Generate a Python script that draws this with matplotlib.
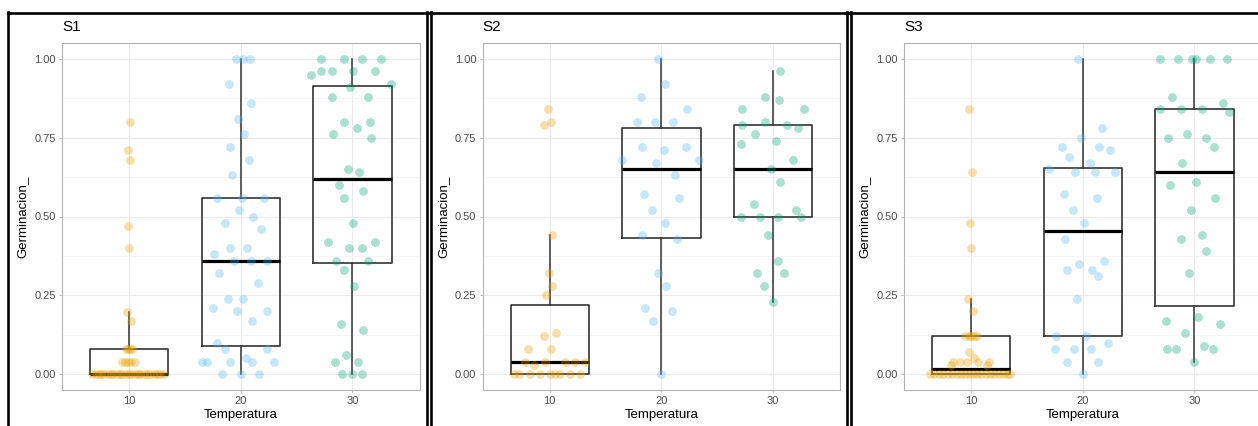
import numpy as np
import matplotlib.pyplot as plt
from matplotlib.lines import Line2D

plt.rcParams['font.family'] = ['Liberation Sans', 'DejaVu Sans']

W, H = 1258, 426

panels = ['S1', 'S2', 'S3']
temps = ['10', '20', '30']
colors = ['#E69F00', '#56B4E9', '#009E73']

# ---- S1 ----
s1_t10 = [0.80, 0.71, 0.68, 0.47, 0.40, 0.198, 0.17,
          0.08, 0.08, 0.08, 0.08,
          0.04, 0.04, 0.04, 0.04, 0.04] + [0.0] * 24
s1_t10_dx = [0.006, -0.012, 0.012, -0.006, 0.003, -0.015, 0.018,
             -0.03, -0.01, 0.01, 0.025,
             -0.065, -0.04, -0.01, 0.02, 0.05,
             -0.33, -0.30, -0.27, -0.25, -0.22, -0.19, -0.16, -0.14, -0.11, -0.08, -0.06, -0.03,
             0.0, 0.02, 0.05, 0.08, 0.10, 0.13, 0.16, 0.19, 0.22, 0.25, 0.28, 0.31]

s1_t20 = [1.0, 1.0, 1.0, 0.92, 0.86, 0.81, 0.76, 0.72, 0.68, 0.63,
          0.56, 0.56, 0.56, 0.52, 0.50, 0.48, 0.46, 0.40, 0.40, 0.38,
          0.36, 0.36, 0.36, 0.32, 0.29, 0.24, 0.24, 0.21, 0.20, 0.20,
          0.17, 0.10, 0.08, 0.08, 0.04, 0.04, 0.04, 0.04, 0.04, 0.05,
          0.0, 0.0, 0.0]
s1_t20_dx = [-0.045, 0.021, 0.083, -0.101, 0.089, -0.024, 0.033, -0.095, 0.074, -0.074,
             -0.217, 0.009, 0.208, -0.015, 0.110, -0.143, 0.179, -0.092, 0.054, -0.238,
             -0.057, 0.092, 0.238, -0.193, 0.152, -0.116, 0.018, -0.247, -0.033, 0.232,
             0.101, -0.214, -0.140, 0.235, -0.348, -0.298, -0.098, 0.101, 0.298, 0.051,
             -0.167, 0.0, 0.167]

s1_t30 = [1.0, 1.0, 1.0, 1.0, 0.95, 0.96, 0.96, 0.96, 0.96, 0.92,
          0.91, 0.88, 0.88, 0.80, 0.80, 0.78, 0.76, 0.75, 0.65, 0.64,
          0.60, 0.58, 0.56, 0.48, 0.42, 0.42, 0.40, 0.40, 0.36, 0.36,
          0.33, 0.28, 0.16, 0.14, 0.06, 0.04, 0.04, 0.0, 0.0, 0.0]
s1_t30_dx = [-0.280, -0.077, 0.089, 0.253, -0.375, -0.280, -0.182, 0.009, 0.199, 0.345,
             -0.024, -0.185, 0.137, -0.077, 0.161, 0.042, -0.176, 0.164, -0.036, 0.054,
             -0.122, 0.095, -0.077, 0.009, -0.220, 0.202, -0.033, 0.089, -0.146, 0.143,
             -0.080, 0.015, -0.107, 0.098, -0.054, -0.158, 0.051, -0.098, -0.003, 0.089]

# ---- S2 ----
s2_t10 = [0.84, 0.79, 0.80, 0.44, 0.32, 0.28, 0.25, 0.13, 0.12, 0.08, 0.08,
          0.04, 0.04, 0.04, 0.04, 0.04, 0.03] + [0.0] * 9
s2_t10_dx = [-0.015, -0.054, 0.015, 0.024, -0.009, 0.021, -0.036, 0.054, -0.048, -0.193, 0.012,
             -0.223, -0.045, 0.137, 0.226, 0.315, -0.140,
             -0.321, -0.271, -0.179, -0.089, 0.0, 0.045, 0.089, 0.185, 0.274]

s2_t20 = [1.0, 0.92, 0.88, 0.84, 0.80, 0.80, 0.80, 0.72, 0.72, 0.71,
          0.68, 0.68, 0.67, 0.63, 0.57, 0.56, 0.52, 0.48, 0.44, 0.43,
          0.32, 0.28, 0.21, 0.20, 0.17, 0.0]
s2_t20_dx = [-0.027, 0.033, -0.179, 0.226, -0.220, -0.060, 0.101, -0.170, 0.220, 0.027,
             -0.354, 0.336, -0.045, 0.119, -0.155, 0.158, -0.086, 0.030, -0.170, 0.143,
             -0.033, 0.045, -0.143, 0.095, -0.077, 0.0]

s2_t30 = [0.96, 0.88, 0.87, 0.84, 0.84, 0.79, 0.79, 0.80, 0.78, 0.76,
          0.73, 0.74, 0.68, 0.65, 0.61, 0.54, 0.52, 0.50, 0.50, 0.50,
          0.50, 0.44, 0.36, 0.32, 0.32, 0.28, 0.23]
s2_t30_dx = [0.057, -0.071, 0.051, -0.277, 0.280, -0.277, 0.125, -0.071, 0.223, -0.161,
             -0.286, 0.021, 0.179, -0.021, 0.060, -0.176, 0.202, -0.286, -0.122, 0.042,
             0.247, -0.048, 0.042, -0.143, 0.098, -0.086, 0.0]

# ---- S3 ----
s3_t10 = [0.84, 0.64, 0.48, 0.40, 0.24, 0.20,
          0.12, 0.12, 0.12, 0.12, 0.12, 0.07, 0.05,
          0.04, 0.04, 0.04, 0.04, 0.04, 0.03, 0.03] + [0.0] * 20
s3_t10_dx = [-0.018, 0.006, -0.012, -0.003, -0.027, 0.018,
             -0.05, -0.02, 0.0, 0.03, 0.05, -0.021, 0.030,
             -0.161, -0.095, -0.036, 0.060, 0.158, -0.176, 0.143,
             -0.37, -0.33, -0.29, -0.25, -0.21, -0.17, -0.13, -0.09, -0.05, -0.02,
             0.02, 0.05, 0.09, 0.13, 0.17, 0.21, 0.25, 0.29, 0.32, 0.35]

s3_t20 = [1.0, 0.78, 0.75, 0.72, 0.72, 0.71, 0.69, 0.67, 0.65, 0.64,
          0.64, 0.64, 0.57, 0.56, 0.52, 0.48, 0.43, 0.36, 0.35, 0.33,
          0.33, 0.31, 0.24, 0.12, 0.12, 0.10, 0.08, 0.08, 0.08, 0.04,
          0.04, 0.0]
s3_t20_dx = [-0.045, 0.176, -0.018, -0.190, 0.146, 0.241, -0.119, 0.068, -0.298, -0.068,
             0.110, 0.286, -0.170, 0.128, -0.083, 0.009, -0.158, 0.193, -0.030, -0.143,
             0.083, 0.134, -0.051, -0.241, 0.033, 0.229, -0.244, -0.080, 0.077, -0.140,
             0.140, 0.0]

s3_t30 = [1.0, 1.0, 1.0, 1.0, 1.0, 1.0, 0.88, 0.86, 0.84, 0.84,
          0.84, 0.83, 0.75, 0.75, 0.76, 0.72, 0.67, 0.60, 0.61, 0.56,
          0.52, 0.43, 0.44, 0.39, 0.32, 0.17, 0.18, 0.16, 0.13, 0.08,
          0.08, 0.08, 0.09, 0.04]
s3_t30_dx = [-0.307, -0.149, -0.024, 0.012, 0.137, 0.295, -0.205, 0.256, -0.313, -0.122,
             0.068, 0.313, -0.238, 0.107, -0.068, 0.173, -0.116, -0.217, 0.012, 0.188,
             -0.030, -0.122, 0.068, 0.104, -0.051, -0.256, 0.033, 0.226, -0.086, -0.247,
             -0.167, 0.164, 0.083, 0.0]

data = {
    'S1': ([s1_t10, s1_t20, s1_t30], [s1_t10_dx, s1_t20_dx, s1_t30_dx]),
    'S2': ([s2_t10, s2_t20, s2_t30], [s2_t10_dx, s2_t20_dx, s2_t30_dx]),
    'S3': ([s3_t10, s3_t20, s3_t30], [s3_t10_dx, s3_t20_dx, s3_t30_dx]),
}

fig = plt.figure(figsize=(W / 100, H / 100), dpi=100)

# pixel layout of the three screenshots
plot_left = [62, 482.7, 904]
ylab_x = [22, 443, 864]
plot_w = 357.5
plot_top, plot_bot = 43, 390


def fx(x):
    return x / W


def fy(y):
    return 1 - y / H


for i, name in enumerate(panels):
    vals, dxs = data[name]
    ax = fig.add_axes([fx(plot_left[i]), fy(plot_bot), plot_w / W, (plot_bot - plot_top) / H])
    pos = np.arange(1, 4)

    ax.boxplot(vals, positions=pos, widths=0.7, showfliers=False, showcaps=False, whis=1.5,
               boxprops=dict(color='#333333', linewidth=1.2),
               whiskerprops=dict(color='#333333', linewidth=1.1),
               medianprops=dict(color='black', linewidth=2.3),
               zorder=2)
    for j in range(3):
        ax.scatter(pos[j] + np.array(dxs[j]), vals[j], s=40, color=colors[j],
                   alpha=0.33, linewidths=0, zorder=3)

    ax.set_xlim(0.4, 3.6)
    ax.set_ylim(-0.05, 1.05)
    ax.set_xticks(pos)
    ax.set_xticklabels(temps)
    ax.set_yticks([0, 0.25, 0.5, 0.75, 1.0])
    ax.set_yticklabels(['0.00', '0.25', '0.50', '0.75', '1.00'])
    ax.set_yticks([0.125, 0.375, 0.625, 0.875], minor=True)
    ax.grid(True, which='major', color='#EBEBEB', linewidth=0.8)
    ax.grid(True, which='minor', axis='y', color='#F4F4F4', linewidth=0.6)
    ax.set_axisbelow(True)
    ax.tick_params(which='major', length=2.5, width=0.6, color='#B3B3B3',
                   labelsize=8, labelcolor='#4D4D4D', pad=2)
    ax.tick_params(which='minor', length=0)
    for sp in ax.spines.values():
        sp.set_color('#B3B3B3')
        sp.set_linewidth(0.8)

    fig.text(fx(plot_left[i]), fy(27), name, fontsize=11, ha='left', va='center')
    fig.text(fx(plot_left[i] + plot_w / 2), fy(415), 'Temperatura', fontsize=9.5,
             ha='center', va='center')
    fig.text(fx(ylab_x[i]), fy((plot_top + plot_bot) / 2), 'Germinacion_', fontsize=9.5,
             rotation=90, ha='center', va='center')

# black frames around the screenshots
lw = 1.9
fig.add_artist(Line2D([fx(7.8), 1], [fy(13.2), fy(13.2)], color='black', lw=lw,
                      transform=fig.transFigure))
for xv in [7.8, 426.7, 431, 847, 850.7]:
    fig.add_artist(Line2D([fx(xv), fx(xv)], [fy(12), 0], color='black', lw=lw,
                          transform=fig.transFigure))

fig.savefig('out.png', dpi=100)
